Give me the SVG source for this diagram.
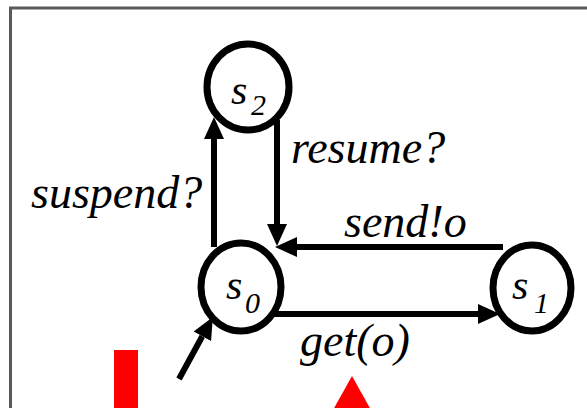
<svg xmlns="http://www.w3.org/2000/svg" width="587" height="408" viewBox="0 0 587 408">
<defs>
<style>
.state{fill:none;stroke:#000;stroke-width:7}
.edge{stroke:#000;stroke-width:6;fill:none}
</style>
<marker id="ah" viewBox="0 0 22 20" refX="0" refY="10" markerWidth="22" markerHeight="20" markerUnits="userSpaceOnUse" orient="auto">
<path d="M0,0 L22,10 L0,20 z" fill="#000"/>
</marker>
</defs>
<rect x="0" y="0" width="587" height="408" fill="#fff"/>
<path d="M10.5,408 V8 H587" fill="none" stroke="#5a5a5a" stroke-width="3"/>
<g id="connectors">
<line class="edge" x1="214" y1="247" x2="214" y2="139" marker-end="url(#ah)"/>
<line class="edge" x1="277" y1="120" x2="277" y2="224" marker-end="url(#ah)"/>
<line class="edge" x1="503" y1="247" x2="297" y2="247" marker-end="url(#ah)"/>
<line class="edge" x1="272" y1="314" x2="478" y2="314" marker-end="url(#ah)"/>
<line class="edge" x1="179" y1="379" x2="202.3" y2="336.3" marker-end="url(#ah)"/>
<text x="31" y="208" font-family="Liberation Serif" font-style="italic" font-size="46">suspend?</text>
<text x="291" y="163" font-family="Liberation Serif" font-style="italic" font-size="46">resume?</text>
<text x="344" y="237" font-family="Liberation Serif" font-style="italic" font-size="46">send!o</text>
<text x="300" y="356" font-family="Liberation Serif" font-style="italic" font-size="46">get(o)</text>
</g>
<g id="s2">
<ellipse class="state" cx="248" cy="87" rx="41" ry="43"/>
<text x="231" y="104" font-family="Liberation Serif" font-style="italic" font-size="42">s</text>
<text x="251" y="115" font-family="Liberation Serif" font-style="italic" font-size="30">2</text>
</g>
<g id="s0">
<ellipse class="state" cx="241" cy="287" rx="40" ry="44"/>
<text x="226" y="299" font-family="Liberation Serif" font-style="italic" font-size="42">s</text>
<text x="245" y="313" font-family="Liberation Serif" font-style="italic" font-size="30">0</text>
</g>
<g id="s1">
<ellipse class="state" cx="532" cy="288" rx="39" ry="43"/>
<text x="512" y="299" font-family="Liberation Serif" font-style="italic" font-size="42">s</text>
<text x="534" y="313" font-family="Liberation Serif" font-style="italic" font-size="30">1</text>
</g>
<rect x="114" y="350" width="24" height="60" fill="#f00"/>
<polygon points="352,376 333,410 371,410" fill="#f00"/>
</svg>
